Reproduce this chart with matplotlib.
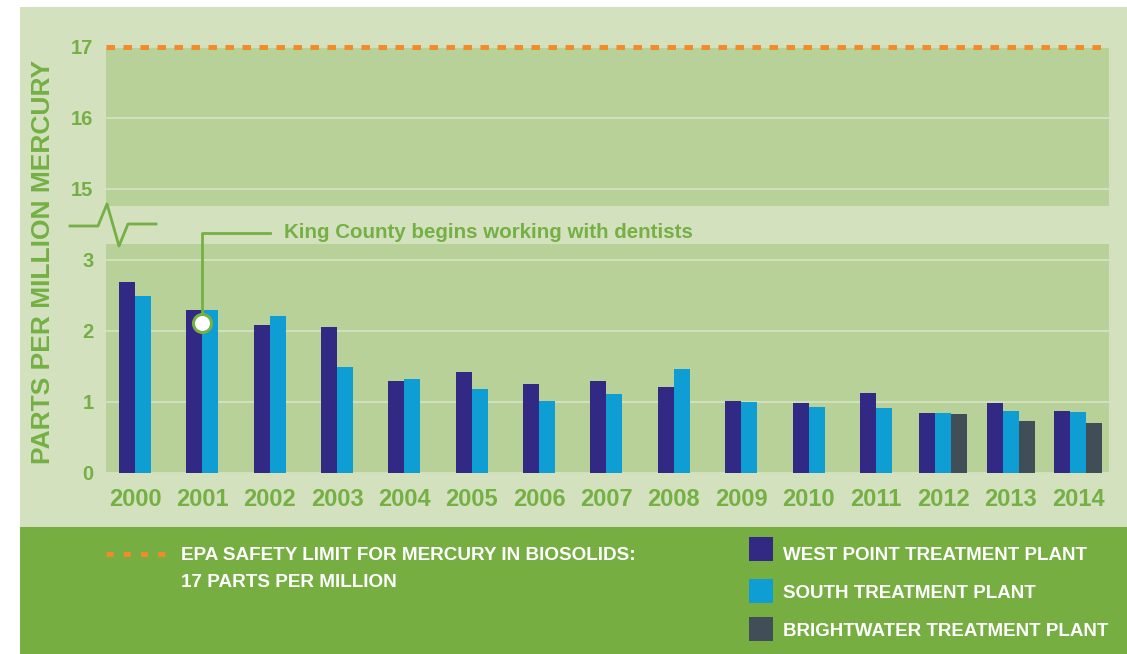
import matplotlib
matplotlib.use("Agg")
import matplotlib.pyplot as plt
import numpy as np
from matplotlib import font_manager
from matplotlib.patches import Rectangle
from matplotlib.lines import Line2D

# ---------------- data ----------------
years = ["2000", "2001", "2002", "2003", "2004", "2005", "2006", "2007",
         "2008", "2009", "2010", "2011", "2012", "2013", "2014"]
west_point = [2.69, 2.30, 2.09, 2.05, 1.30, 1.42, 1.26, 1.30, 1.21, 1.02,
              0.98, 1.12, 0.84, 0.98, 0.88]
south = [2.49, 2.30, 2.21, 1.49, 1.33, 1.18, 1.01, 1.11, 1.46, 1.00,
         0.93, 0.91, 0.84, 0.88, 0.855]
brightwater = [None, None, None, None, None, None, None, None, None, None,
               None, None, 0.83, 0.73, 0.71]
epa_limit = 17
annotation_year = "2001"
annotation_value = 2.11
annotation_text = "King County begins working with dentists"
y_top_ticks = [15, 16, 17]
y_bottom_ticks = [0, 1, 2, 3]
series_labels = ["WEST POINT TREATMENT PLANT", "SOUTH TREATMENT PLANT",
                 "BRIGHTWATER TREATMENT PLANT"]
limit_label = ["EPA SAFETY LIMIT FOR MERCURY IN BIOSOLIDS:", "17 PARTS PER MILLION"]
ylabel = "PARTS PER MILLION MERCURY"

# ---------------- style ----------------
C_BG = "#d3e1bf"
C_PLOT = "#b8d199"
C_BAND = "#76ae42"
C_GREEN = "#74b043"
C_ORANGE = "#f58a28"
C_NAVY = "#322985"
C_CYAN = "#0f9ed3"
C_SLATE = "#414e58"
C_GRID = "#d3e2c0"

names = {f.name for f in font_manager.fontManager.ttflist}
HAS_NARROW = "Liberation Sans Narrow" in names
NARROW = "Liberation Sans Narrow" if HAS_NARROW else "Liberation Sans"
BOLD = "Liberation Sans"
LEG_FS = 16.5 if HAS_NARROW else 13.5
LIM_FS = 16.5 if HAS_NARROW else 13.6
ANN_FS = 17 if HAS_NARROW else 14.8

W, H = 1127, 654
fig = plt.figure(figsize=(W / 100, H / 100), dpi=100)
fig.patch.set_facecolor("white")


def fx(x):
    return x / W


def fy(y):
    return 1 - y / H


# background panels
fig.patches.append(Rectangle((fx(20), fy(527)), fx(1127) - fx(20), fy(7) - fy(527),
                             transform=fig.transFigure, facecolor=C_BG, edgecolor="none", zorder=-10))
fig.patches.append(Rectangle((fx(20), fy(654)), fx(1127) - fx(20), fy(527) - fy(654),
                             transform=fig.transFigure, facecolor=C_BAND, edgecolor="none", zorder=-10))

left, right = 106, 1109
ax_top = fig.add_axes([fx(left), fy(206), fx(right) - fx(left), fy(47) - fy(206)])
ax_bot = fig.add_axes([fx(left), fy(473), fx(right) - fx(left), fy(244) - fy(473)])

x = np.arange(len(years))
w = 0.2375
xlim = (-0.43, len(years) - 1 + 0.46)

for ax in (ax_top, ax_bot):
    ax.set_facecolor(C_PLOT)
    for s in ax.spines.values():
        s.set_visible(False)
    ax.set_xlim(*xlim)
    ax.set_axisbelow(True)
    ax.grid(axis="y", color=C_GRID, linewidth=1.3)
    ax.grid(axis="x", visible=False)
    ax.tick_params(length=0, labelcolor=C_GREEN)

ax_top.set_ylim(14.76, 17.0)
ax_top.set_yticks(y_top_ticks)
ax_top.set_xticks([])
ax_bot.set_ylim(0, 3.225)
ax_bot.set_yticks(y_bottom_ticks)
ax_bot.set_xticks(x)
ax_bot.set_xticklabels(years)

for ax in (ax_top, ax_bot):
    for lab in ax.get_yticklabels():
        lab.set_fontfamily(BOLD)
        lab.set_fontweight("bold")
        lab.set_fontsize(14.5)
    ax.tick_params(axis="y", pad=9)
for lab in ax_bot.get_xticklabels():
    lab.set_fontfamily(BOLD)
    lab.set_fontweight("bold")
    lab.set_fontsize(17)
ax_bot.tick_params(axis="x", pad=11)

# bars
for i in range(len(years)):
    vals = [west_point[i], south[i], brightwater[i]]
    cols = [C_NAVY, C_CYAN, C_SLATE]
    present = [(v, c) for v, c in zip(vals, cols) if v is not None]
    n = len(present)
    for j, (v, c) in enumerate(present):
        off = (j - (n - 1) / 2) * w
        ax_bot.bar(x[i] + off, v, width=w, color=c, linewidth=0, zorder=3)

# EPA limit line
ax_top.axhline(epa_limit, color=C_ORANGE, linewidth=3.6, linestyle=(0, (1.7, 1.7)),
               dash_capstyle="butt", clip_on=False, zorder=5)

# axis break symbol
bx = [70, 98, 107, 119, 128, 156]
by = [226, 226, 204, 246, 224, 224]
fig.lines.append(Line2D([fx(v) for v in bx], [fy(v) for v in by], transform=fig.transFigure,
                        color=C_GREEN, linewidth=2.0))

# annotation callout
ai = years.index(annotation_year)
y_call = 3.38
ax_bot.plot([x[ai], x[ai], x[ai] + 1.0], [annotation_value, y_call, y_call], color=C_GREEN,
            linewidth=2.0, clip_on=False, zorder=6)
ax_bot.plot([x[ai]], [annotation_value], marker="o", markersize=13, markerfacecolor="white",
            markeredgecolor=C_GREEN, markeredgewidth=2.2, clip_on=False, zorder=7)
ax_bot.text(x[ai] + 1.21, y_call, annotation_text, color=C_GREEN, fontsize=ANN_FS,
            fontfamily=NARROW, fontweight="bold", va="center", ha="left", clip_on=False)

# y label
fig.text(fx(43), fy(262), ylabel, rotation=90, ha="center", va="center", color=C_GREEN,
         fontfamily=BOLD, fontweight="bold", fontsize=19)

# legend: limit
fig.lines.append(Line2D([fx(106), fx(166)], [fy(553.5), fy(553.5)], transform=fig.transFigure,
                        color=C_ORANGE, linewidth=3.5, linestyle=(0, (1.45, 2.1)),
                        dash_capstyle="butt"))
fig.text(fx(181), fy(560), limit_label[0], color="white", fontfamily=NARROW, fontweight="bold",
         fontsize=LIM_FS, va="baseline", ha="left")
fig.text(fx(181), fy(587), limit_label[1], color="white", fontfamily=NARROW, fontweight="bold",
         fontsize=LIM_FS, va="baseline", ha="left")

# legend: series
sq_tops = [537, 579, 617]
text_baselines = [560, 598, 636]
for lbl, col, t, b in zip(series_labels, [C_NAVY, C_CYAN, C_SLATE], sq_tops, text_baselines):
    fig.patches.append(Rectangle((fx(749), fy(t + 24)), fx(773) - fx(749), fy(t) - fy(t + 24),
                                 transform=fig.transFigure, facecolor=col, edgecolor="none"))
    fig.text(fx(783), fy(b), lbl, color="white", fontfamily=NARROW, fontweight="bold",
             fontsize=LEG_FS, va="baseline", ha="left")

fig.savefig("out.png", dpi=100, facecolor="white")
